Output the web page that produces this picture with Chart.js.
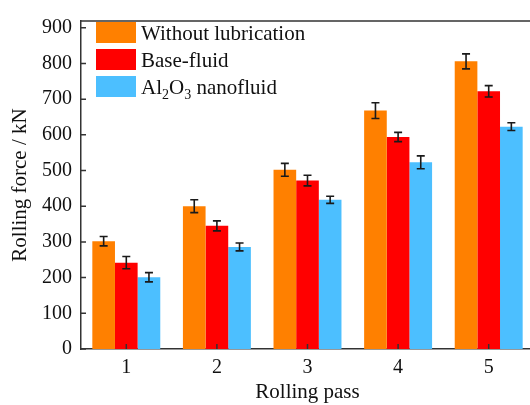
<!DOCTYPE html>
<html><head><meta charset="utf-8">
<script src="https://cdn.jsdelivr.net/npm/chart.js@4/dist/chart.umd.min.js"></script>
<style>html,body{margin:0;padding:0;overflow:hidden;background:#fff}#wrap{width:540px;height:405px}</style>
</head><body><div id="wrap"><canvas id="c" width="540" height="405"></canvas></div>
<script>
const categories = ['1', '2', '3', '4', '5'];
const withoutLubrication = [302, 400, 502, 668, 806];
const withoutLubricationErr = [13, 18, 18, 22, 21];
const baseFluid = [242, 345, 472, 594, 722];
const baseFluidErr = [17, 14, 15, 13, 16];
const nanofluid = [201, 286, 418, 523, 623];
const nanofluidErr = [13, 11, 10, 18, 11];
const yTickValues = [0, 100, 200, 300, 400, 500, 600, 700, 800, 900];

const FONT = 'Liberation Serif';
const colors = ['#FF8000', '#FF0000', '#4CBFFF'];
const errs = [withoutLubricationErr, baseFluidErr, nanofluidErr];

const errorPlugin = {
  id: 'errbars',
  afterDatasetsDraw(chart) {
    const c = chart.ctx, ys = chart.scales.y;
    c.save();
    c.strokeStyle = '#1a1a1a';
    c.lineWidth = 1.6;
    chart.data.datasets.forEach((ds, di) => {
      const meta = chart.getDatasetMeta(di);
      meta.data.forEach((bar, i) => {
        const v = ds.data[i], e = errs[di][i];
        const yt = ys.getPixelForValue(v + e), yb = ys.getPixelForValue(v - e);
        const x = bar.x, hw = 4;
        c.beginPath();
        c.moveTo(x, yt); c.lineTo(x, yb);
        c.moveTo(x - hw, yt); c.lineTo(x + hw, yt);
        c.moveTo(x - hw, yb); c.lineTo(x + hw, yb);
        c.stroke();
      });
    });
    c.restore();
  }
};

const framePlugin = {
  id: 'frame',
  afterDraw(chart) {
    const c = chart.ctx, a = chart.chartArea, ys = chart.scales.y, xs = chart.scales.x;
    c.save();
    c.strokeStyle = '#333';
    c.lineWidth = 1.5;
    c.beginPath();
    c.moveTo(a.left, a.top); c.lineTo(a.right, a.top); c.lineTo(a.right, a.bottom);
    yTickValues.forEach(v => {
      const y = ys.getPixelForValue(v);
      c.moveTo(a.left, y); c.lineTo(a.left + 5, y);
    });
    categories.forEach((_, i) => {
      const x = xs.getPixelForValue(i);
      c.moveTo(x, a.bottom); c.lineTo(x, a.bottom - 5);
    });
    c.stroke();
    c.restore();
  }
};

const legendPlugin = {
  id: 'customLegend',
  afterDraw(chart) {
    const c = chart.ctx;
    c.save();
    const items = [
      [{t: 'Without lubrication'}],
      [{t: 'Base-fluid'}],
      [{t: 'Al'}, {t: '2', sub: true}, {t: 'O'}, {t: '3', sub: true}, {t: ' nanofluid'}]
    ];
    const x0 = 96, w = 40, h = 21, tops = [22, 49, 76];
    items.forEach((parts, i) => {
      c.fillStyle = chart.data.datasets[i].backgroundColor;
      c.fillRect(x0, tops[i], w, h);
      let x = x0 + w + 5;
      const yb = tops[i] + h / 2 + 2;
      c.fillStyle = '#111';
      c.textBaseline = 'middle';
      c.textAlign = 'left';
      parts.forEach(p => {
        if (p.sub) {
          c.font = '14px "' + FONT + '"';
          c.fillText(p.t, x, yb + 7);
        } else {
          c.font = '21px "' + FONT + '"';
          c.fillText(p.t, x, yb);
        }
        x += c.measureText(p.t).width;
      });
    });
    c.restore();
  }
};

const tickFont = {family: FONT, size: 20};
new Chart(document.getElementById('c').getContext('2d'), {
  type: 'bar',
  data: {
    labels: categories,
    datasets: [
      {label: 'Without lubrication', data: withoutLubrication, backgroundColor: colors[0]},
      {label: 'Base-fluid', data: baseFluid, backgroundColor: colors[1]},
      {label: 'Al2O3 nanofluid', data: nanofluid, backgroundColor: colors[2]}
    ]
  },
  options: {
    responsive: false,
    animation: false,
    devicePixelRatio: 1,
    datasets: {bar: {categoryPercentage: 0.75, barPercentage: 1.0}},
    layout: {padding: {top: 9, right: 6, left: 0, bottom: 0}},
    plugins: {legend: {display: false}, tooltip: {enabled: false}},
    scales: {
      x: {
        grid: {display: false, drawTicks: false},
        border: {color: '#333', width: 1.5},
        ticks: {font: tickFont, color: '#111', padding: 7},
        title: {display: true, text: 'Rolling pass', font: {family: FONT, size: 21}, color: '#111', padding: 0},
        afterFit(s) { s.height = 56; }
      },
      y: {
        min: 0, max: 919,
        grid: {display: false, drawTicks: false},
        border: {color: '#333', width: 1.5},
        ticks: {font: tickFont, color: '#111', padding: 9, stepSize: 100},
        afterBuildTicks(s) { s.ticks = yTickValues.map(v => ({value: v})); },
        title: {display: true, text: 'Rolling force / kN', font: {family: FONT, size: 21}, color: '#111', padding: {top: 8, bottom: 0}},
        afterFit(s) { s.width = 81; }
      }
    }
  },
  plugins: [errorPlugin, framePlugin, legendPlugin]
});
</script></body></html>
